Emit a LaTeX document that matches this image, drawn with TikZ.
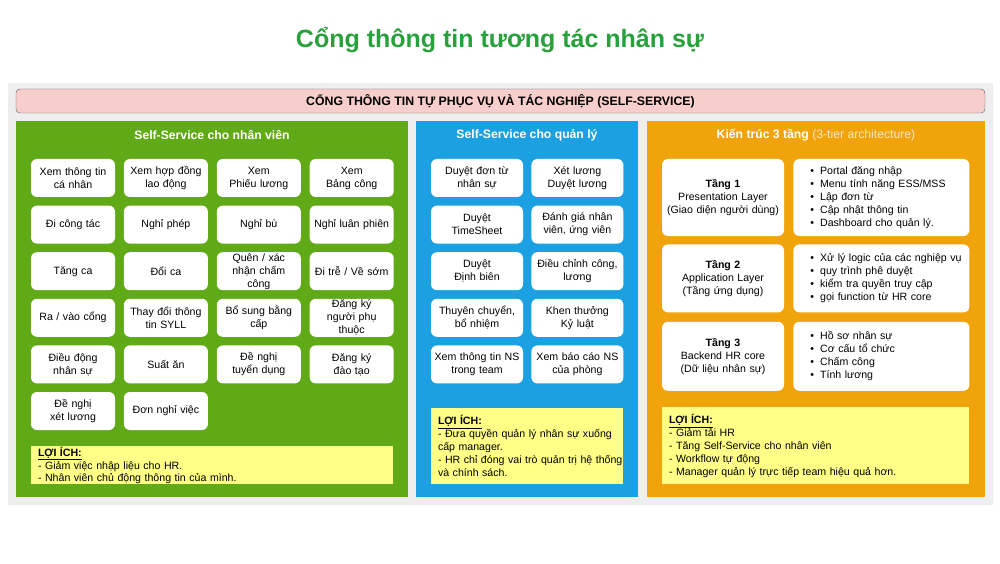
\documentclass[tikz,border=0pt]{standalone}
\usepackage{fontspec}
\setmainfont{Liberation Sans}
\usetikzlibrary{positioning}
\definecolor{titlegreen}{RGB}{40,160,60}
\definecolor{bggray}{RGB}{238,238,238}
\definecolor{nvgreen}{RGB}{96,169,23}
\definecolor{qlblue}{RGB}{27,161,226}
\definecolor{ktorange}{RGB}{240,163,10}
\definecolor{notey}{RGB}{255,255,136}
\definecolor{bannerpink}{RGB}{248,206,204}
\definecolor{bannerline}{RGB}{90,90,90}
\newcommand{\boxfont}{\fontsize{10.6}{13}\selectfont}
\newcommand{\itm}[1]{\hspace*{17pt}\textbullet\hspace{6pt}#1}
\newcommand{\loiich}{\underline{\textbf{LỢI ÍCH:}}}
\tikzstyle{ssbox} = [rectangle, rounded corners=6pt, fill=white, minimum width=84pt, minimum height=38pt, text width=82pt, inner xsep=1pt, inner ysep=0pt, align=center, font=\boxfont]
\tikzstyle{mbox} = [ssbox, minimum width=92pt, text width=90pt]
\tikzstyle{tierbox} = [ssbox, minimum width=122pt, text width=120pt]
\tikzstyle{tierlist} = [ssbox, minimum width=176pt, text width=176pt, inner xsep=0pt, align=left]
\tikzstyle{benefit} = [rectangle, fill=notey, inner xsep=7pt, inner ysep=0pt, align=left, font=\fontsize{10.6}{12.9}\selectfont]
\tikzstyle{paneltitle} = [text=white, font=\fontsize{12.2}{14}\selectfont\bfseries]

\begin{document}
\begin{tikzpicture}[x=1pt, y=1pt]
\useasboundingbox (0,0) rectangle (1000,563);

\node(title) [text=titlegreen, font=\fontsize{25}{30}\selectfont\bfseries] at (500,523) {Cổng thông tin tương tác nhân sự};

\fill[bggray] (8,58) rectangle (993,480);
\node(banner) [rectangle, rounded corners=4pt, fill=bannerpink, draw=bannerline, minimum width=969pt, minimum height=24pt, font=\fontsize{12.3}{14}\selectfont\bfseries] at (500.5,462) {CỔNG THÔNG TIN TỰ PHỤC VỤ VÀ TÁC NGHIỆP (SELF-SERVICE)};

\fill[nvgreen] (16,66) rectangle (408,442);
\fill[qlblue] (416,66) rectangle (638,442);
\fill[ktorange] (647,66) rectangle (985,442);

\node(tnv) [paneltitle] at (212,428) {Self-Service cho nhân viên};
\node(tql) [paneltitle] at (527,428) {Self-Service cho quản lý};
\node(tkt) [paneltitle] at (816,428) {Kiến trúc 3 tầng \textcolor{white!75!ktorange}{\mdseries(3-tier architecture)}};

% nhan vien
\node(ttcn) [ssbox] at (73,385) {Xem thông tin\\cá nhân};
\node(hdld) [ssbox, right=8.5pt of ttcn] {Xem hợp đồng\\lao động};
\node(pluong) [ssbox, right=8.5pt of hdld] {Xem\\Phiếu lương};
\node(bcong) [ssbox, right=8.5pt of pluong] {Xem\\Bảng công};

\node(dct) [ssbox, below=8.2pt of ttcn] {Đi công tác};
\node(nphep) [ssbox, right=8.5pt of dct] {Nghỉ phép};
\node(nbu) [ssbox, right=8.5pt of nphep] {Nghỉ bù};
\node(nlp) [ssbox, right=8.5pt of nbu] {Nghỉ luân phiên};

\node(tca) [ssbox, below=8.2pt of dct] {Tăng ca};
\node(dca) [ssbox, right=8.5pt of tca] {Đổi ca};
\node(qxn) [ssbox, right=8.5pt of dca] {Quên / xác\\nhận chấm\\công};
\node(ditre) [ssbox, right=8.5pt of qxn] {Đi trễ / Về sớm};

\node(rvc) [ssbox, below=8.2pt of tca] {Ra / vào cổng};
\node(tdtt) [ssbox, right=8.5pt of rvc] {Thay đổi thông\\tin SYLL};
\node(bsbc) [ssbox, right=8.5pt of tdtt] {Bổ sung bằng\\cấp};
\node(dknpt) [ssbox, right=8.5pt of bsbc] {Đăng ký\\người phụ\\thuộc};

\node(ddns) [ssbox, below=8.2pt of rvc] {Điều động\\nhân sự};
\node(suatan) [ssbox, right=8.5pt of ddns] {Suất ăn};
\node(dntd) [ssbox, right=8.5pt of suatan] {Đề nghị\\tuyển dụng};
\node(dkdt) [ssbox, right=8.5pt of dntd] {Đăng ký\\đào tạo};

\node(dnxl) [ssbox, below=8.2pt of ddns] {Đề nghị\\xét lương};
\node(dnv) [ssbox, right=8.5pt of dnxl] {Đơn nghỉ việc};

\node(ichnv) [benefit, minimum width=362pt, minimum height=38pt, text width=348pt, below=16pt of dnxl.south west, anchor=north west] {\loiich\\- Giảm việc nhập liệu cho HR.\\- Nhân viên chủ động thông tin của mình.};

% quan ly
\node(dtns) [mbox] at (477,385) {Duyệt đơn từ\\nhân sự};
\node(xlduyet) [mbox, right=8pt of dtns] {Xét lương\\Duyệt lương};
\node(dts) [mbox, below=8.2pt of dtns] {Duyệt\\TimeSheet};
\node(dgnv) [mbox, right=8pt of dts] {Đánh giá nhân\\viên, ứng viên};
\node(ddb) [mbox, below=8.2pt of dts] {Duyệt\\Định biên};
\node(dccl) [mbox, right=8pt of ddb] {Điều chỉnh công,\\lương};
\node(tcbn) [mbox, below=8.2pt of ddb] {Thuyên chuyển,\\bổ nhiệm};
\node(ktkl) [mbox, right=8pt of tcbn] {Khen thưởng\\Kỷ luật};
\node(xttns) [mbox, below=8.2pt of tcbn] {Xem thông tin NS\\trong team};
\node(xbcns) [mbox, right=8pt of xttns] {Xem báo cáo NS\\của phòng};

\node(ichql) [benefit, minimum width=192pt, minimum height=76pt, text width=178pt, below=24pt of xttns.south west, anchor=north west] {\loiich\\\mbox{- Đưa quyền quản lý nhân sự xuống}\\cấp manager.\\\mbox{- HR chỉ đóng vai trò quản trị hệ thống}\\và chính sách.};

% kien truc
\node(t1) [tierbox, minimum height=77pt] at (723,365.5) {\textbf{Tầng 1}\\Presentation Layer\\(Giao diện người dùng)};
\node(t1list) [tierlist, minimum height=77pt, right=9pt of t1] {\itm{Portal đăng nhập}\\\itm{Menu tính năng ESS/MSS}\\\itm{Lập đơn từ}\\\itm{Cập nhật thông tin}\\\itm{Dashboard cho quản lý.}};
\node(t2) [tierbox, minimum height=68pt, below=8pt of t1] {\textbf{Tầng 2}\\Application Layer\\(Tầng ứng dụng)};
\node(t2list) [tierlist, minimum height=68pt, right=9pt of t2] {\itm{Xử lý logic của các nghiệp vụ}\\\itm{quy trình phê duyệt}\\\itm{kiểm tra quyền truy cập}\\\itm{gọi function từ HR core}};
\node(t3) [tierbox, minimum height=69pt, below=9pt of t2] {\textbf{Tầng 3}\\Backend HR core\\(Dữ liệu nhân sự)};
\node(t3list) [tierlist, minimum height=69pt, right=9pt of t3] {\itm{Hồ sơ nhân sự}\\\itm{Cơ cấu tổ chức}\\\itm{Chấm công}\\\itm{Tính lương}};

\node(ichkt) [benefit, minimum width=307pt, minimum height=77pt, text width=293pt, below=16pt of t3.south west, anchor=north west] {\loiich\\- Giảm tải HR\\- Tăng Self-Service cho nhân viên\\- Workflow tự động\\- Manager quản lý trực tiếp team hiệu quả hơn.};

\end{tikzpicture}
\end{document}
